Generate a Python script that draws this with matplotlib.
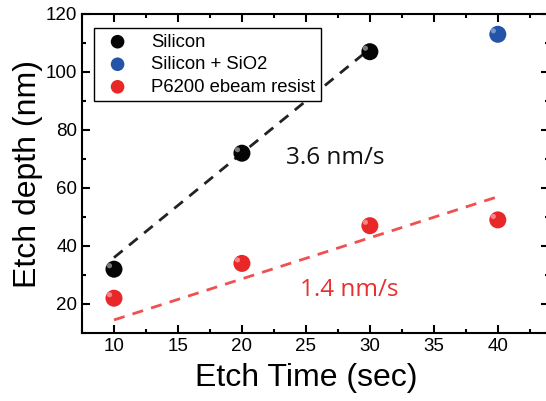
import matplotlib
matplotlib.use("Agg")
import matplotlib.pyplot as plt
from matplotlib.ticker import MultipleLocator
import numpy as np

si_x = [10, 20, 30]
si_y = [32, 72, 107]
sio2_x = [40]
sio2_y = [113]
res_x = [10, 20, 30, 40]
res_y = [22, 34, 47, 49]
si_fit_x = [10, 30]
si_fit_y = [36, 108]
res_fit_x = [10, 40]
res_fit_y = [14.5, 57]

plt.rcParams['font.family'] = ['Liberation Sans', 'DejaVu Sans']
fig = plt.figure(figsize=(5.46, 4.01), dpi=100)
ax = fig.add_axes([82/546, 1 - 333/401, (549-82)/546, (333-14)/401])

ax.plot(si_fit_x, si_fit_y, ls=(0, (4, 3)), color='#222222', lw=2, zorder=2)
ax.plot(res_fit_x, res_fit_y, ls=(0, (4, 3)), color='#f05050', lw=2, zorder=2)

def balls(x, y, c, hl, label):
    ax.scatter(x, y, s=150, color=c, zorder=3, label=label, edgecolors='none')
    ax.scatter(np.array(x) - 0.35, np.array(y) + 1.2, s=14, color=hl, zorder=4,
               edgecolors='none', alpha=0.8)

balls(si_x, si_y, '#050505', '#9a9a9a', 'Silicon')
balls(sio2_x, sio2_y, '#2454a8', '#8aa6dc', 'Silicon + SiO2')
balls(res_x, res_y, '#e82828', '#ff9a9a', 'P6200 ebeam resist')

ax.set_xlim(7.5, 44)
ax.set_ylim(10, 120)

ax.text(27.3, 70.3, '3.6 nm/s', fontsize=17.5, color='#111111', ha='center', va='center',
        family=['Open Sans', 'DejaVu Sans'])
ax.text(28.4, 24.8, '1.4 nm/s', fontsize=17.5, color='#e83030', ha='center', va='center',
        family=['Open Sans', 'DejaVu Sans'])

ax.xaxis.set_major_locator(MultipleLocator(5))
ax.xaxis.set_minor_locator(MultipleLocator(2.5))
ax.yaxis.set_major_locator(MultipleLocator(20))
ax.yaxis.set_minor_locator(MultipleLocator(10))
ax.tick_params(which='both', direction='in', top=True, right=True, width=1.5)
ax.tick_params(which='major', length=6, labelsize=13.5)
ax.tick_params(which='minor', length=3)
for s in ax.spines.values():
    s.set_linewidth(1.5)

ax.set_xlabel('Etch Time (sec)', fontsize=23, labelpad=2)
ax.set_ylabel('Etch depth (nm)', fontsize=23, labelpad=2)
ax.xaxis.set_label_coords(0.48, -0.095)

leg = ax.legend(loc='upper left', bbox_to_anchor=(0.005, 0.985), fontsize=13.3,
                frameon=True, fancybox=False, edgecolor='black', framealpha=1,
                handletextpad=0.8, borderpad=0.3, labelspacing=0.3, markerscale=0.8)
leg.get_frame().set_linewidth(1.0)

fig.savefig('out.png', dpi=100)
